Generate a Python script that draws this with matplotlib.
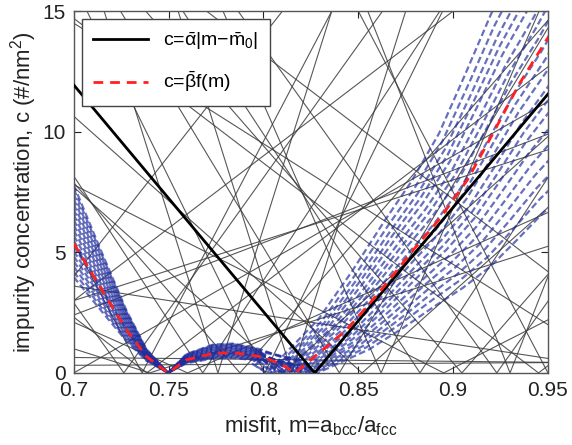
import numpy as np
import matplotlib
matplotlib.use("Agg")
import matplotlib.pyplot as plt

plt.rcParams['font.family'] = ['Liberation Sans', 'DejaVu Sans']
plt.rcParams['mathtext.fontset'] = 'custom'
plt.rcParams['mathtext.rm'] = 'Liberation Sans'
plt.rcParams['mathtext.it'] = 'Liberation Sans'

# mean fit curve c = beta f(m), read at knots
red_m = [0.70, 0.7137, 0.7278, 0.7383, 0.7497, 0.7594, 0.7735, 0.784, 0.798, 0.8086, 0.8166,
         0.8438, 0.8614, 0.879, 0.893, 0.9075, 0.921, 0.935, 0.95, 0.965]
red_c = [5.37, 3.58, 1.78, 0.68, 0.0, 0.54, 0.81, 0.84, 0.68, 0.40, 0.0,
         1.78, 3.37, 5.1, 6.4, 8.0, 9.93, 12.0, 13.9, 16.0]

# ensemble members: scale on the left branches, shift and scale on the right branch
blue_scale_left = [0.78, 1.30, 0.86, 1.38, 0.94, 1.02, 1.45, 1.10, 0.82, 1.18, 1.26,
                   0.90, 1.34, 0.98, 1.06, 1.42, 1.14, 1.22, 0.74, 1.0]
blue_shift_right = [0.012, 0.0106, 0.0092, 0.0078, 0.0064, 0.005, 0.0036, 0.0022, 0.0008, -0.0006,
                    -0.002, -0.0034, -0.0048, -0.0062, -0.0076, -0.009, -0.0104, -0.0118, -0.0132, -0.015]
blue_scale_right = [0.55, 0.6, 0.64, 0.68, 0.72, 0.76, 0.8, 0.83, 0.86, 0.9, 0.93,
                    0.96, 1.0, 1.03, 1.06, 1.1, 1.13, 1.16, 1.2, 1.24]

# mean linear fit
alpha_bar = 94.0
m0_bar = 0.827

# individual fits: vertex m0 and slope alpha
thin_m0 = [0.7264, 0.736, 0.7385, 0.768, 0.776, 0.7876, 0.8007, 0.81, 0.84, 0.852, 0.862,
           0.8825, 0.9046, 0.923, 0.945, 0.895, 0.0, 1.5, 0.74, 0.62, 1.0, 0.58, 0.99, 1.02,
           0.66, 0.70, 0.815, 0.93, 0.95, 0.76, 0.65]
thin_alpha = [110, 150, 60, 120, 250, 90, 160, 70, 130, 70, 180,
              120, 90, 110, 60, 40, 0.45, 0.8, 25, 30, 12, 25, 50, 60,
              100, 45, 250, 200, 150, 35, 60]

xlim = (0.7, 0.95)
ylim = (0, 15)

fig = plt.figure(figsize=(5.72, 4.45), dpi=100)
ax = fig.add_axes([0.129, 0.162, 0.829, 0.813])

xs = np.array(xlim)
for m0, a in zip(thin_m0, thin_alpha):
    mm = np.array([xlim[0], m0, xlim[1]]) if xlim[0] < m0 < xlim[1] else xs
    ax.plot(mm, a * np.abs(mm - m0), color='#3a3a3a', lw=0.8, alpha=0.85, zorder=1)

rm = np.array(red_m)
rc = np.array(red_c)
right = rm >= 0.8086
for sl, d, sr in zip(blue_scale_left, blue_shift_right, blue_scale_right):
    xm = np.where(right, rm + d, rm)
    yc = np.where(rm > 0.8166, rc * sr, rc * sl)
    ax.plot(xm, yc, color='#1f2c9c', lw=1.6, alpha=0.68,
            linestyle=(0, (3, 1.5)), zorder=2)

mm = np.array([xlim[0], m0_bar, xlim[1]])
l1, = ax.plot(mm, alpha_bar * np.abs(mm - m0_bar), color='black', lw=2.0, zorder=4,
              label=r'c=$\bar{\alpha}$|m$-\bar{\mathrm{m}}_0$|')
l2, = ax.plot(rm, rc, color='#ff2020', lw=2.0, dashes=(3.5, 2.5), zorder=5,
              label=r'c=$\bar{\beta}$f(m)')

ax.set_xlim(*xlim)
ax.set_ylim(*ylim)
ax.set_xticks([0.7, 0.75, 0.8, 0.85, 0.9, 0.95])
ax.set_xticklabels(['0.7', '0.75', '0.8', '0.85', '0.9', '0.95'])
ax.set_yticks([0, 5, 10, 15])
ax.tick_params(direction='in', length=5, width=0.8, labelsize=15, colors='#222222',
               top=True, right=True, pad=6)
for sp in ax.spines.values():
    sp.set_color('#555555')
    sp.set_linewidth(1.0)

ax.set_xlabel(r'misfit, m=a$_{\mathrm{bcc}}$/a$_{\mathrm{fcc}}$', fontsize=16,
              color='#222222', labelpad=10)
ax.set_ylabel(r'impurity concentration, c (#/nm$^2$)', fontsize=16, color='#222222',
              labelpad=2)

leg = ax.legend(handles=[l1, l2], loc='upper left', fontsize=14, frameon=True,
                fancybox=False, framealpha=1, edgecolor='#444444',
                borderpad=0.6, handlelength=2.8, labelspacing=0.9,
                bbox_to_anchor=(0.0, 1.0), borderaxespad=0.4)
leg.get_frame().set_linewidth(1.0)

fig.savefig('out.png', dpi=100)
